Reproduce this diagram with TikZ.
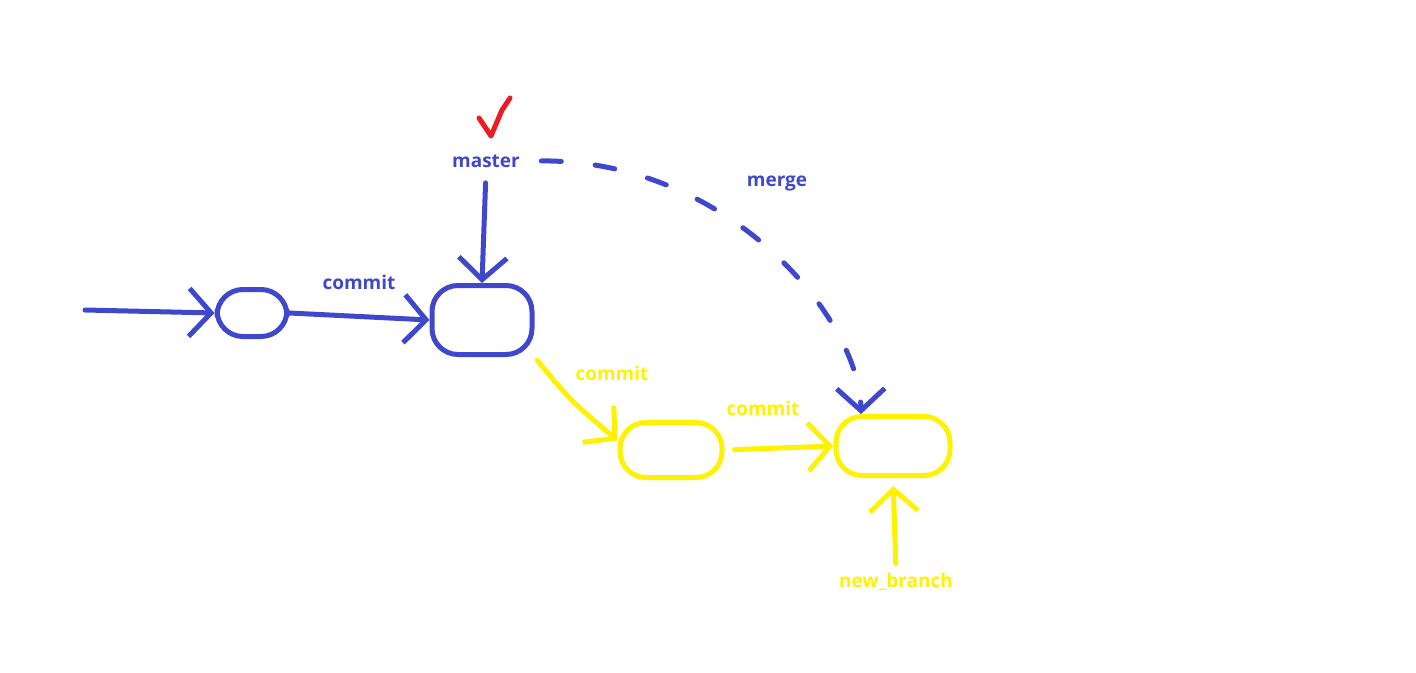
\documentclass[tikz,border=0pt]{standalone}
\usepackage{fontspec}
\setmainfont{Open Sans}
\usetikzlibrary{arrows.meta}
\definecolor{pblue}{HTML}{3F48CC}
\definecolor{pyellow}{HTML}{FFF200}
\definecolor{pred}{HTML}{ED1C24}
\begin{document}
\begin{tikzpicture}[x=1pt,y=-1pt, line width=5pt, line cap=round, line join=round,
 commitbox/.style={draw, rounded corners=26pt, inner sep=0pt},
 lbl/.style={font=\fontsize{19}{21}\selectfont\bfseries, inner sep=1pt},
 harrow/.style={-{Straight Barb[length=22pt,width=48pt]}}]
\useasboundingbox (0,0) rectangle (1416,672);
% commits
\node[commitbox, pblue, minimum width=70pt, minimum height=47pt] (c1) at (252,313) {};
\node[commitbox, pblue, minimum width=100pt, minimum height=69pt] (c2) at (482,320) {};
\node[commitbox, pyellow, minimum width=102pt, minimum height=55pt] (c3) at (671,450) {};
\node[commitbox, pyellow, minimum width=114pt, minimum height=59pt] (c4) at (893,446) {};
% labels
\node[lbl, pblue] (master) at (486,161) {master};
\node[lbl, pblue] (merge) at (777,183) {merge};
\node[lbl, pblue] (l1) at (359,282) {commit};
\node[lbl, pyellow] (l2) at (612,373) {commit};
\node[lbl, pyellow] (l3) at (763,408) {commit};
\node[lbl, pyellow] (nb) at (896,582) {new\_branch};
% connectors
\coordinate (start) at (85,310);
\draw[pblue, harrow] (start) -- (c1.west);
\draw[pblue, harrow] (c1.east) -- (c2.west);
\draw[pyellow, harrow, shorten <=4pt] (c2.south east) .. controls (570,400) .. (c3.170);
\draw[pyellow, harrow, shorten <=10pt] (c3.east) -- (c4.west);
\draw[pblue, harrow, shorten <=12pt] (master.south) -- (c2.north);
\draw[pblue, harrow, dash pattern=on 20pt off 34pt, shorten <=18pt]
  (master.east) .. controls (730,160) and (860,320) .. (c4.135);
\draw[pyellow, harrow, shorten <=6pt, shorten >=8pt] (nb.north) -- (c4.south);
% check mark
\draw[pred] (479,118) -- (491,136) -- (502,110) -- (510,98);
\end{tikzpicture}
\end{document}
